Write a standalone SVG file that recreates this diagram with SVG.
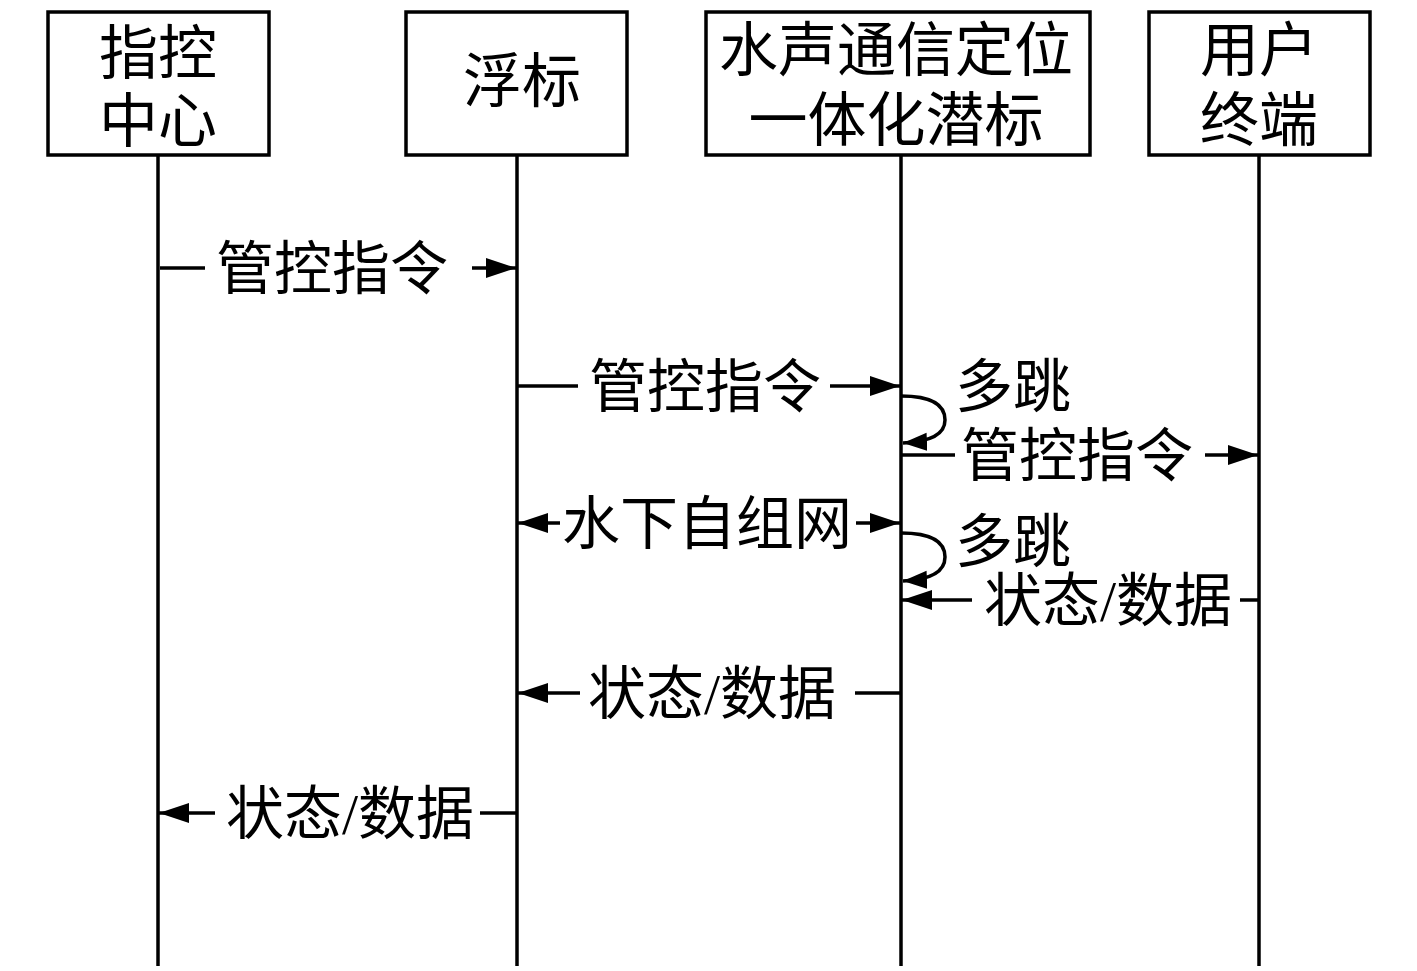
<svg xmlns="http://www.w3.org/2000/svg" width="1417" height="971" viewBox="0 0 1417 971">
<style>
.box{fill:#fff;stroke:#000;stroke-width:3.5}
.life{stroke:#000;stroke-width:3.5;fill:none}
.ln{stroke:#000;stroke-width:3.5;fill:none}
.t{font-family:"Liberation Serif","Noto Sans CJK SC",serif;font-size:58px;font-weight:400;fill:#000;text-anchor:middle}
.tb{font-family:"Liberation Serif","Noto Sans CJK SC",serif;font-size:59px;font-weight:400;fill:#000;text-anchor:middle}
</style>
<defs>
<marker id="ah" markerUnits="userSpaceOnUse" markerWidth="32" markerHeight="22" refX="30" refY="10" orient="auto">
<path d="M0,0 L30,10 L0,20 z" fill="#000"/>
</marker>
<marker id="ahs" markerUnits="userSpaceOnUse" markerWidth="26" markerHeight="20" refX="24" refY="9" orient="auto">
<path d="M0,0 L24,9 L0,18 z" fill="#000"/>
</marker>
</defs>
<rect width="1417" height="971" fill="#fff"/>
<g id="lifelines">
<line class="life" x1="158" y1="155" x2="158" y2="966"/>
<line class="life" x1="517" y1="155" x2="517" y2="966"/>
<line class="life" x1="901" y1="155" x2="901" y2="966"/>
<line class="life" x1="1259" y1="155" x2="1259" y2="966"/>
</g>
<g id="node-command">
<rect class="box" x="48" y="12" width="221" height="143"/>
<text class="tb" x="158" y="74">指控</text>
<text class="tb" x="158" y="142">中心</text>
</g>
<g id="node-buoy">
<rect class="box" x="406" y="12" width="221" height="143"/>
<text class="tb" x="522" y="102">浮标</text>
</g>
<g id="node-subbuoy">
<rect class="box" x="706" y="12" width="384" height="143"/>
<text class="tb" x="896" y="71">水声通信定位</text>
<text class="tb" x="896" y="141">一体化潜标</text>
</g>
<g id="node-user">
<rect class="box" x="1149" y="12" width="221" height="143"/>
<text class="tb" x="1259" y="71">用户</text>
<text class="tb" x="1259" y="141">终端</text>
</g>
<g id="connectors">
<line class="ln" x1="160" y1="268" x2="205" y2="268"/>
<line class="ln" x1="472" y1="268" x2="516" y2="268" marker-end="url(#ah)"/>
<line class="ln" x1="517" y1="386" x2="578" y2="386"/>
<line class="ln" x1="830" y1="386" x2="900" y2="386" marker-end="url(#ah)"/>
<path class="ln" d="M901,396 Q945,396 945,420 Q945,441 903,443" marker-end="url(#ahs)"/>
<line class="ln" x1="901" y1="455" x2="955" y2="455"/>
<line class="ln" x1="1205" y1="455" x2="1258" y2="455" marker-end="url(#ah)"/>
<line class="ln" x1="560" y1="523" x2="518" y2="523" marker-end="url(#ah)"/>
<line class="ln" x1="856" y1="523" x2="900" y2="523" marker-end="url(#ah)"/>
<path class="ln" d="M901,533 Q945,533 945,557 Q945,579 903,581" marker-end="url(#ahs)"/>
<line class="ln" x1="972" y1="600" x2="902" y2="600" marker-end="url(#ah)"/>
<line class="ln" x1="1240" y1="600" x2="1259" y2="600"/>
<line class="ln" x1="580" y1="693" x2="518" y2="693" marker-end="url(#ah)"/>
<line class="ln" x1="855" y1="693" x2="901" y2="693"/>
<line class="ln" x1="215" y1="813" x2="159" y2="813" marker-end="url(#ah)"/>
<line class="ln" x1="480" y1="813" x2="517" y2="813"/>
</g>
<g id="labels">
<text class="t" x="332" y="289">管控指令</text>
<text class="t" x="705" y="407">管控指令</text>
<text class="t" x="1013" y="407">多跳</text>
<text class="t" x="1077" y="476">管控指令</text>
<text class="t" x="707" y="544">水下自组网</text>
<text class="t" x="1013" y="562">多跳</text>
<text class="t" x="1108" y="621">状态/数据</text>
<text class="t" x="712" y="714">状态/数据</text>
<text class="t" x="350" y="834">状态/数据</text>
</g>
</svg>
